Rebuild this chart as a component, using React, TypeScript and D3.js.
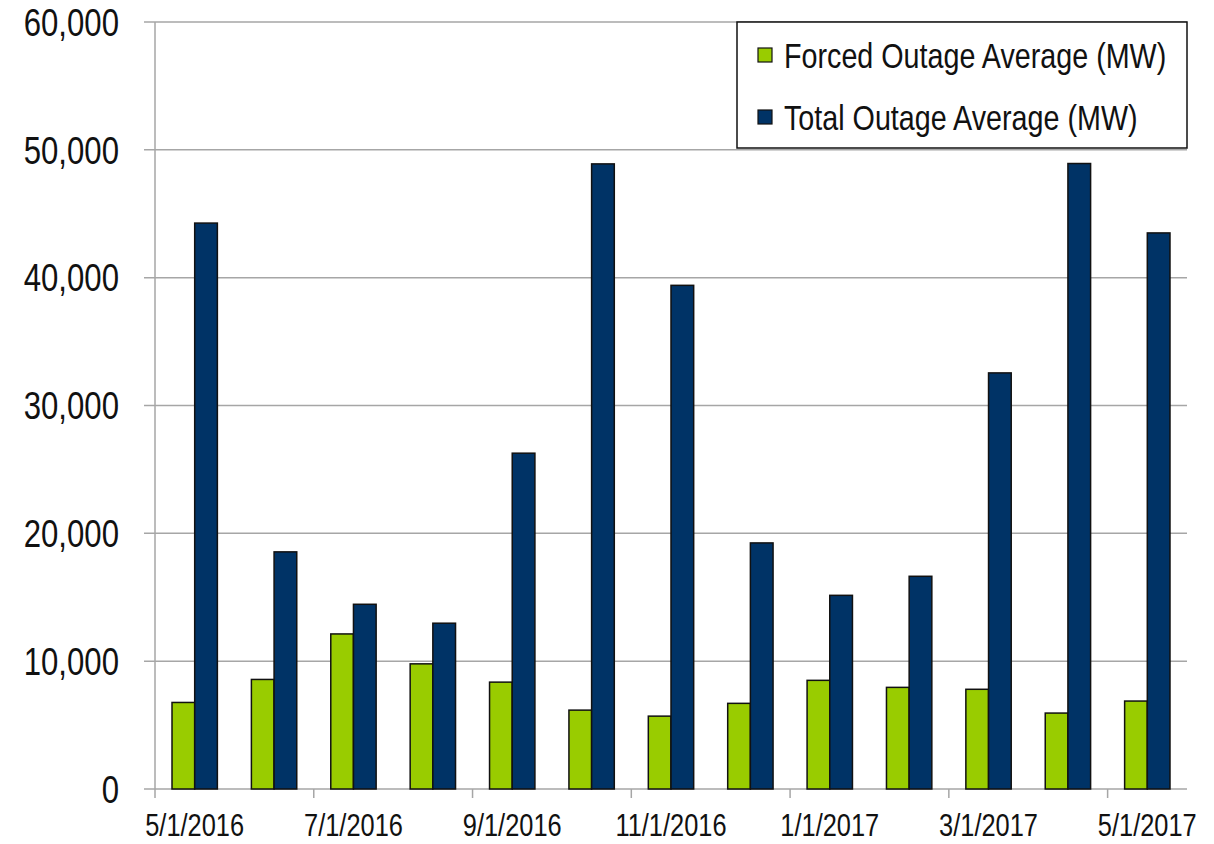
import React, { useEffect, useRef } from 'react';
import * as d3 from 'd3';

const months = [
  '5/1/2016', '6/1/2016', '7/1/2016', '8/1/2016', '9/1/2016', '10/1/2016', '11/1/2016',
  '12/1/2016', '1/1/2017', '2/1/2017', '3/1/2017', '4/1/2017', '5/1/2017',
];
const forcedOutage = [6770, 8570, 12130, 9790, 8360, 6170, 5700, 6700, 8500, 7950, 7800, 5940, 6880];
const totalOutage = [44270, 18550, 14450, 12970, 26270, 48900, 39400, 19250, 15150, 16640, 32550, 48930, 43500];
const yTicks = [0, 10000, 20000, 30000, 40000, 50000, 60000];
const seriesNames = ['Forced Outage Average (MW)', 'Total Outage Average (MW)'];
const seriesColors = ['#99cc00', '#003366'];

// no Arial Narrow here, so squeeze Liberation Sans horizontally
const FONT = '"Liberation Sans", Arial, sans-serif';
const NARROW = 0.82;

function Chart() {
  const ref = useRef<SVGSVGElement>(null);

  useEffect(() => {
    const W = 1214, H = 844;
    const margin = { top: 22, right: 27, bottom: 55, left: 155 };
    const w = W - margin.left - margin.right;
    const h = H - margin.top - margin.bottom;

    const svg = d3.select(ref.current);
    svg.selectAll('*').remove();
    const g = svg.append('g').attr('transform', `translate(${margin.left},${margin.top})`);

    const x = d3.scaleBand().domain(months).range([0, w]).paddingInner(0).paddingOuter(0);
    // Excel gap width 150%: two bars + 1.5 bar widths of gap per category
    const barW = x.bandwidth() / 3.5;
    const x1 = d3.scaleBand().domain(seriesNames).range([0, barW * 2]);
    const y = d3.scaleLinear().domain([0, 60000]).range([h, 0]);

    // gridlines + y ticks
    g.selectAll('.grid')
      .data(yTicks)
      .enter()
      .append('line')
      .attr('x1', -11)
      .attr('x2', w)
      .attr('y1', (d) => y(d))
      .attr('y2', (d) => y(d))
      .attr('stroke', '#a6a6a6')
      .attr('stroke-width', 1.5);

    g.selectAll('.ylab')
      .data(yTicks)
      .enter()
      .append('g')
      .attr('transform', (d) => `translate(-36,${y(d)}) scale(${NARROW},1)`)
      .append('text')
      .attr('dy', '0.36em')
      .attr('text-anchor', 'end')
      .style('font-family', FONT)
      .style('font-size', '38px')
      .attr('fill', '#111')
      .text((d) => d3.format(',')(d));

    // y axis line
    g.append('line')
      .attr('x1', 0).attr('x2', 0)
      .attr('y1', 0).attr('y2', h)
      .attr('stroke', '#a6a6a6')
      .attr('stroke-width', 1.5);

    // x ticks every two months at category boundaries
    const tickMonths = months.filter((_, i) => i % 2 === 0);
    g.selectAll('.xtick')
      .data(tickMonths)
      .enter()
      .append('line')
      .attr('x1', (d) => x(d)!)
      .attr('x2', (d) => x(d)!)
      .attr('y1', h)
      .attr('y2', h + 9)
      .attr('stroke', '#a6a6a6')
      .attr('stroke-width', 1.5);

    g.selectAll('.xlab')
      .data(tickMonths)
      .enter()
      .append('g')
      .attr('transform', (d) => `translate(${x(d)! + x.bandwidth() / 2},${h + 47}) scale(${NARROW},1)`)
      .append('text')
      .attr('text-anchor', 'middle')
      .style('font-family', FONT)
      .style('font-size', '31px')
      .attr('fill', '#111')
      .text((d) => d);

    // bars
    const rows = months.map((m, i) => ({ month: m, vals: [forcedOutage[i], totalOutage[i]] }));
    const groups = g.selectAll('.grp')
      .data(rows)
      .enter()
      .append('g')
      .attr('transform', (d) => `translate(${x(d.month)! + (x.bandwidth() - barW * 2) / 2},0)`);

    groups.selectAll('rect')
      .data((d) => d.vals.map((v, k) => ({ v, k })))
      .enter()
      .append('rect')
      .attr('x', (d) => x1(seriesNames[d.k])!)
      .attr('y', (d) => y(d.v))
      .attr('width', x1.bandwidth())
      .attr('height', (d) => h - y(d.v))
      .attr('fill', (d) => seriesColors[d.k])
      .attr('stroke', '#111')
      .attr('stroke-width', 1.5);

    // legend
    const lg = svg.append('g').attr('transform', 'translate(737,22)');
    lg.append('rect')
      .attr('width', 450)
      .attr('height', 126)
      .attr('fill', '#fff')
      .attr('stroke', '#111')
      .attr('stroke-width', 1.5);

    const items = lg.selectAll('.item')
      .data(seriesNames)
      .enter()
      .append('g')
      .attr('transform', (_, i) => `translate(21,${33 + i * 62})`);
    items.append('rect')
      .attr('x', 0).attr('y', -7)
      .attr('width', 14).attr('height', 14)
      .attr('fill', (_, i) => seriesColors[i])
      .attr('stroke', '#111')
      .attr('stroke-width', 1.2);
    items.append('g')
      .attr('transform', `translate(26,0) scale(${NARROW},1)`)
      .append('text')
      .attr('dy', '0.36em')
      .style('font-family', FONT)
      .style('font-size', '35px')
      .attr('fill', '#111')
      .text((d) => d);
  }, []);

  return <svg ref={ref} width={1214} height={844} style={{ display: 'block', background: '#fff' }} />;
}

export default function App() {
  return (
    <div style={{ position: 'absolute', left: 0, top: 0 }}>
      <Chart />
    </div>
  );
}
